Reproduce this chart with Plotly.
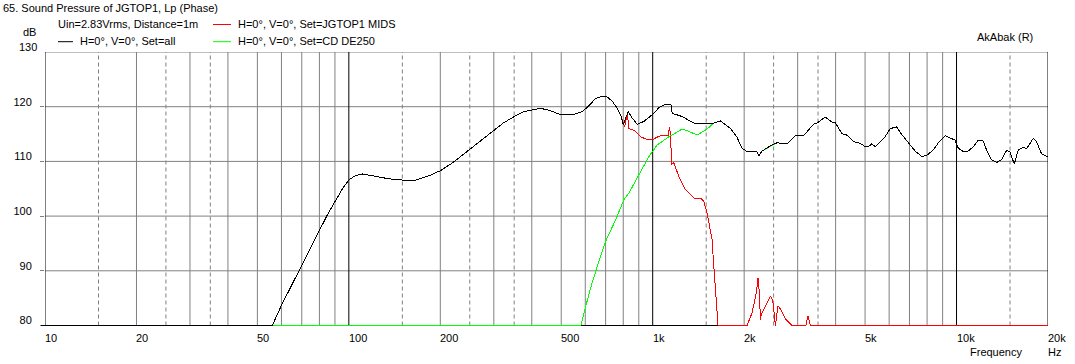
import math
import plotly.graph_objects as go

# ---------------- data ----------------
black_freq = [10, 56, 59.9, 64.3, 69.7, 74.8, 80.1, 85.1, 90.8, 95.3,
              100, 105, 111, 123, 136, 150, 166, 184, 200, 219,
              250, 273, 300, 322, 350, 372, 400, 428, 459, 500,
              544, 587, 617, 649, 681, 707, 736, 763, 786, 801,
              816, 832, 854, 889, 935, 1000, 1048, 1088, 1136, 1148,
              1159, 1250, 1366, 1418, 1492, 1589, 1671, 1803, 1891, 1968,
              2045, 2204, 2233, 2290, 2469, 2564, 2766, 2948, 3139, 3385,
              3471, 3698, 3888, 3990, 4194, 4355, 4581, 4819, 5005, 5132,
              5262, 5399, 5675, 5822, 6046, 6359, 6524, 6945, 7306, 7680,
              7978, 8389, 8713, 9168, 9886, 10136, 10527, 10932, 11356, 11793,
              12246, 12557, 13040, 13543, 14069, 14606, 14990, 15488, 15963, 16580,
              17002, 17885, 18336, 19040, 20000]
black_db = [80, 80, 83.6, 87, 90.8, 94.3, 97.5, 100.3, 103, 105,
            106.6, 107.4, 107.7, 107.2, 106.8, 106.6, 106.6, 107.4, 108.3, 109.7,
            112.2, 114, 115.7, 117, 118.2, 119, 119.4, 119.7, 119.3, 118.5,
            118.5, 119.1, 120.2, 121.5, 121.9, 121.8, 121, 119.8, 118.3, 116.6,
            118, 119.1, 118, 116.8, 117.3, 118.6, 119.8, 120.3, 120.4, 120.4,
            118.8, 118.2, 117, 117, 117.1, 117, 117.4, 116, 114.5, 112.4,
            111.8, 111.8, 111, 111.9, 113, 113.4, 113.2, 114.7, 114.7, 116.8,
            117, 118.1, 117.2, 117.1, 115.1, 114.8, 113.6, 113.3, 112.7, 112.7,
            113.2, 112.7, 113.9, 114.5, 116, 116.3, 115.3, 113.4, 111.9, 110.9,
            111.1, 112.1, 113.4, 114.7, 113.9, 112.4, 111.8, 111.9, 112.7, 113.9,
            113.7, 112.1, 110.3, 109.8, 110.3, 112, 111.8, 109.5, 112.1, 112.6,
            112.3, 114.2, 113.6, 111.4, 110.8]

# JGTOP1 MIDS: identical to the sum below ~800 Hz, then its own roll-off
red_upper_freq = [808, 825, 835, 868, 912, 959, 1000, 1048, 1088, 1124,
                  1136, 1145, 1154, 1174, 1189, 1219, 1283, 1366, 1436, 1473,
                  1510, 1568, 1589, 1609, 1641, 2045, 2123, 2194, 2221, 2245,
                  2262, 2279, 2349, 2440, 2483, 2534, 2584, 2632, 2733, 2873,
                  3194, 3243, 3302, 20000]
red_upper_db = [116.3, 118.8, 116, 115.7, 114.5, 114, 114, 114.6, 114.8, 114.8,
                116.2, 114.8, 109.4, 109.8, 109, 107.2, 104.8, 103.3, 103.3, 102.7,
                100.6, 95.7, 90.8, 86, 80, 80, 82.3, 86, 88.7, 86,
                81.1, 82, 83.6, 85.4, 84.7, 80, 83.6, 83, 81.2, 80,
                80, 81.8, 80, 80]

# CD DE250: its own rise, then identical to the sum above ~1.6 kHz
green_lower_freq = [10, 580, 594, 625, 657, 700, 755, 804, 835, 889,
                    935, 972, 1035, 1130, 1250, 1315, 1400, 1510]
green_lower_db = [80, 80, 82.3, 86.9, 90.8, 95.4, 99.3, 103, 104.2, 106.9,
                  109, 110.9, 113, 114.5, 115.9, 115.5, 114.8, 115.9]

red_freq = [f for f in black_freq if f < 800] + red_upper_freq
red_db = [d for f, d in zip(black_freq, black_db) if f < 800] + red_upper_db
green_freq = green_lower_freq + [f for f in black_freq if f >= 1589]
green_db = green_lower_db + [d for f, d in zip(black_freq, black_db) if f >= 1589]

x_label_vals = [10, 20, 50, 100, 200, 500, 1000, 2000, 5000, 10000, 20000]
x_label_text = ["10", "20", "50", "100", "200", "500", "1k", "2k", "5k", "10k", "20k"]
decade_grid = [10, 100, 1000, 10000, 20000]
solid_grid = [20, 30, 40, 50, 60, 70, 80, 90,
              200, 300, 400, 500, 600, 700, 800, 900,
              2000, 3000, 4000, 5000, 6000, 7000, 8000, 9000]
dashed_grid = [15, 25, 35, 150, 250, 350, 1500, 2500, 3500, 15000]
y_ticks = [80, 90, 100, 110, 120, 130]
y_min, y_max = 80, 130

title_text = "65. Sound Pressure of JGTOP1, Lp (Phase)"
info_text = "Uin=2.83Vrms, Distance=1m"
names = ["H=0°, V=0°, Set=all", "H=0°, V=0°, Set=JGTOP1 MIDS", "H=0°, V=0°, Set=CD DE250"]

# ---------------- layout geometry ----------------
W, H = 1075, 364
L, R, T, B = 45, 27, 52, 36          # plot box leaves 2 px below the 80 dB line
PW, PH = W - L - R, H - T - B
BASE_PX = 325.5                      # pixel row centre of the 80 dB line
y_lo = y_max - (y_max - y_min) * PH / (BASE_PX - T)
FONT = "Liberation Sans, Arial, sans-serif"
GRID = "#808080"


def px(x):
    return (x - L) / PW


def py(y):
    return (H - B - y) / PH


fig = go.Figure()
for fx, fy, col, nm in [(red_freq, red_db, "#ff0000", names[1]),
                        (green_freq, green_db, "#00ff00", names[2]),
                        (black_freq, black_db, "#000000", names[0])]:
    fig.add_trace(go.Scatter(x=fx, y=fy, mode="lines",
                             line=dict(color=col, width=1), name=nm, hoverinfo="skip"))

# vertical grid: grey solid, grey dashed, black decades (all between 80 and 130 dB)
for v in solid_grid:
    fig.add_shape(type="line", xref="x", yref="y", x0=v, x1=v, y0=y_min, y1=y_max,
                  line=dict(color=GRID, width=1), layer="below")
for v in dashed_grid:
    fig.add_shape(type="line", xref="x", yref="y", x0=v, x1=v, y0=y_min, y1=y_max,
                  line=dict(color=GRID, width=1, dash="4px,3px"), layer="below")
for v in decade_grid:
    fig.add_shape(type="line", xref="x", yref="y", x0=v, x1=v, y0=y_min, y1=y_max,
                  line=dict(color="#000000", width=1), layer="below")
# horizontal grey grid lines (90..120) and top frame line
for v in y_ticks[1:]:
    fig.add_shape(type="line", xref="paper", yref="y", x0=0, x1=1, y0=v, y1=v,
                  line=dict(color=GRID, width=1), layer="below")
# black 80 dB axis line: tick stub on the left and the stretch that no curve covers
bare_from = green_lower_freq[1]
bare_to = red_upper_freq[red_upper_db.index(80)]
fig.add_shape(type="line", xref="paper", yref="y", x0=px(41), x1=0, y0=y_min, y1=y_min,
              line=dict(color="#000000", width=1))
fig.add_shape(type="line", xref="x", yref="y", x0=bare_from, x1=bare_to, y0=y_min, y1=y_min,
              line=dict(color="#000000", width=1), layer="below")

ann = []
for v, t in zip(x_label_vals, x_label_text):
    ann.append(dict(x=math.log10(v), xref="x", y=py(338), yref="paper", text=t,
                    xanchor="left", yanchor="middle", showarrow=False, xshift=-2))
ann += [
    dict(x=px(1), y=py(8), text=title_text, xanchor="left"),
    dict(x=px(38), y=py(32), text="dB", xanchor="right"),
    dict(x=px(56), y=py(24.5), text=info_text, xanchor="left"),
    dict(x=px(78), y=py(41.5), text=names[0], xanchor="left"),
    dict(x=px(235.5), y=py(24.5), text=names[1], xanchor="left"),
    dict(x=px(235.5), y=py(41.5), text=names[2], xanchor="left"),
    dict(x=px(1035), y=py(37), text="AkAbak (R)", xanchor="right"),
    dict(x=px(1024), y=py(352), text="Frequency", xanchor="right"),
    dict(x=px(1046), y=py(352), text="Hz", xanchor="left"),
]
for a in ann:
    a.setdefault("xref", "paper")
    a.setdefault("yref", "paper")
    a.setdefault("yanchor", "middle")
    a.setdefault("showarrow", False)
    a["font"] = dict(family=FONT, size=11, color="#000000")
fig.update_layout(annotations=ann)

# legend line samples
for (x0, x1, y, c) in [(58, 73, 41.7, "#000000"), (213, 231, 24.5, "#ff0000"), (213, 231, 41.7, "#00ff00")]:
    fig.add_shape(type="line", xref="paper", yref="paper", x0=px(x0), x1=px(x1), y0=py(y), y1=py(y),
                  line=dict(color=c, width=1))

fig.update_layout(
    width=W, height=H,
    margin=dict(l=L, r=R, t=T, b=B, pad=0),
    paper_bgcolor="white", plot_bgcolor="white",
    showlegend=False,
    font=dict(family=FONT, size=11, color="#000000"),
    xaxis=dict(type="log", range=[1, math.log10(20000)], showgrid=False,
               showticklabels=False, ticks="", showline=False, zeroline=False,
               layer="below traces"),
    yaxis=dict(range=[y_lo, y_max], tickmode="array", tickvals=[v for v in y_ticks if v < y_max],
               ticktext=[str(v) for v in y_ticks if v < y_max],
               showgrid=False, zeroline=False,
               ticks="outside", ticklen=4, tickcolor=GRID, tickwidth=1,
               showline=False, layer="below traces",
               ticklabelshift=-5, ticklabelstandoff=6,
               tickfont=dict(family=FONT, size=11, color="#000000")),
)
# "130" label sits at the top edge of the box
fig.add_annotation(x=0, xref="paper", xshift=-6, y=y_max, yref="y", yshift=5, text="130",
                   xanchor="right", yanchor="middle", showarrow=False,
                   font=dict(family=FONT, size=11, color="#000000"))

post = ("document.body.style.margin='0';document.body.style.padding='0';"
        "document.querySelectorAll('.scatterlayer path').forEach(function(p){"
        "p.style.shapeRendering='crispEdges';});")
fig.write_html("out.html", post_script=post, config={"displayModeBar": False})
